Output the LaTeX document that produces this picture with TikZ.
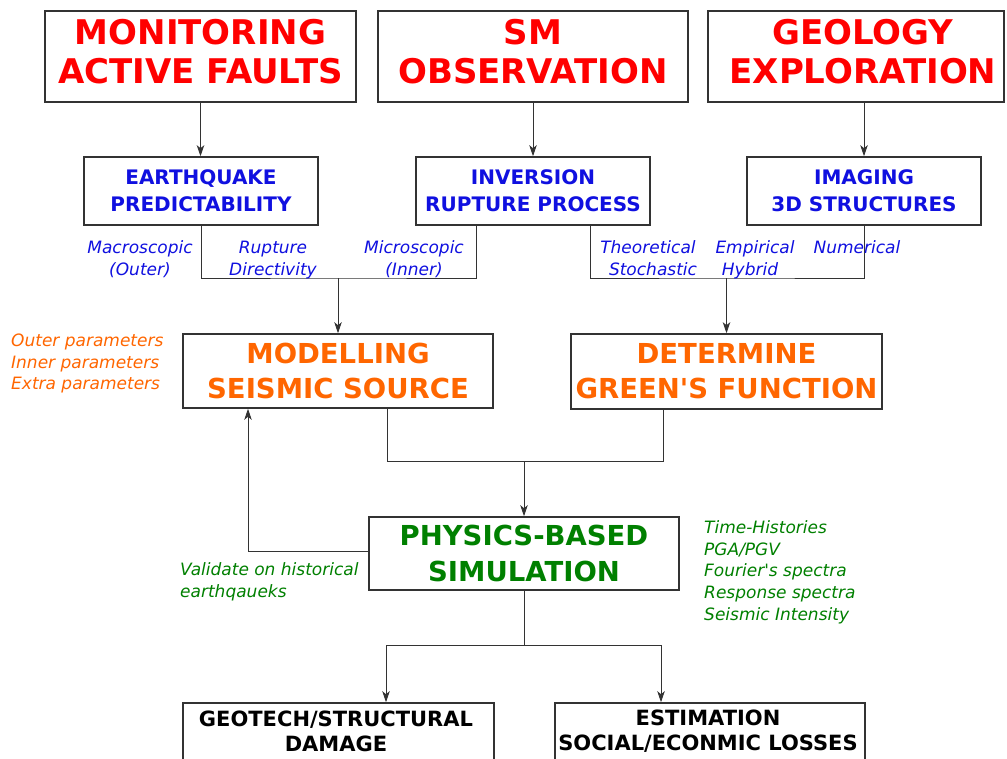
\documentclass[tikz,border=0pt]{standalone}
\usepackage{fontspec}
\setmainfont{DejaVu Sans}
\usetikzlibrary{arrows.meta}
\definecolor{cred}{RGB}{255,0,0}
\definecolor{cblue}{RGB}{16,16,224}
\definecolor{corange}{RGB}{255,102,0}
\definecolor{cgreen}{RGB}{0,128,0}
\definecolor{cline}{RGB}{51,51,51}
\begin{document}
\begin{tikzpicture}[x=1pt,y=-1pt,
  box/.style={draw=cline, line width=1.6pt, inner sep=0pt},
  conn/.style={draw=cline, line width=0.9pt},
  arr/.style={conn, -{Stealth[length=11pt,width=7.5pt,inset=3pt]}},
  redt/.style={text=cred, font=\bfseries\fontsize{34}{39}\selectfont, align=center, inner sep=0pt},
  bluet/.style={text=cblue, font=\bfseries\fontsize{20}{26.7}\selectfont, align=center},
  oranget/.style={text=corange, font=\bfseries\fontsize{27.5}{35}\selectfont, align=center},
  greent/.style={text=cgreen, font=\bfseries\fontsize{27.5}{36.5}\selectfont, align=center},
  blackt/.style={text=black, font=\bfseries\fontsize{21}{25}\selectfont, align=center, inner sep=0pt},
  lab/.style={font=\itshape\fontsize{17}{22}\selectfont, inner sep=0pt, anchor=base},
  bluel/.style={lab, text=cblue},
  orangel/.style={lab, text=corange, anchor=base west},
  greenl/.style={lab, text=cgreen, anchor=base west},
]
\clip (0,0) rectangle (1007,758);
\fill[white] (0,0) rectangle (1007,758);

% top row
\node[box, minimum width=311pt, minimum height=91pt] (t1) at (200.5,56.5) {};
\node[redt] (t1t) at (200.5,51.5) {MONITORING\\ACTIVE FAULTS};
\node[box, minimum width=310pt, minimum height=91pt] (t2) at (533,56.5) {};
\node[redt] (t2t) at (533,51.5) {SM\\OBSERVATION};
\node[box, minimum width=296pt, minimum height=91pt] (t3) at (856,56.5) {};
\node[redt] (t3t) at (863,51.5) {GEOLOGY\\EXPLORATION};

% second row
\node[box, bluet, minimum width=234pt, minimum height=68pt] (eq) at (201,191) {EARTHQUAKE\\PREDICTABILITY};
\node[box, bluet, minimum width=234pt, minimum height=68pt] (inv) at (533,191) {INVERSION\\RUPTURE PROCESS};
\node[box, bluet, minimum width=234pt, minimum height=68pt] (img) at (864,191) {IMAGING\\3D STRUCTURES};

% third row
\node[box, oranget, minimum width=310pt, minimum height=74pt] (ms) at (338,371) {MODELLING\\SEISMIC SOURCE};
\node[box, oranget, minimum width=311pt, minimum height=75pt] (gf) at (726.5,371.5) {DETERMINE\\GREEN\textquotesingle S FUNCTION};

% simulation
\node[box, greent, minimum width=310pt, minimum height=73pt] (sim) at (524,553.5) {PHYSICS-BASED\\SIMULATION};

% bottom row
\node[box, minimum width=311pt, minimum height=80pt] (geo) at (338.5,743) {};
\node[blackt] (geot) at (336,731.5) {GEOTECH/STRUCTURAL\\DAMAGE};
\node[box, minimum width=310pt, minimum height=80pt] (est) at (710,743) {};
\node[blackt] (estt) at (708,731.5) {ESTIMATION\\SOCIAL/ECONMIC LOSSES};

% junctions
\coordinate (j1) at (338,278);
\coordinate (j2) at (726.5,278);
\coordinate (j3) at (524,461.7);
\coordinate (j4) at (524,645);
\coordinate (fb) at (248,551);

% connectors
\draw[arr] (t1.south) -- (t1.south |- eq.north);
\draw[arr] (t2.south) -- (t2.south |- inv.north);
\draw[arr] (img.north |- t3.south) -- (img.north);
\draw[conn] (eq.south) |- (j1) -| ([xshift=-57pt]inv.south);
\draw[arr] (j1) -- (ms.north);
\draw[conn] ([xshift=57pt]inv.south) |- (j2) -| (img.south);
\draw[arr] (j2) -- (gf.north);
\draw[conn] ([xshift=49pt]ms.south) |- (j3) -| ([xshift=-63.5pt]gf.south);
\draw[arr] (j3) -- (sim.north);
\draw[arr] (sim.west |- fb) -- (fb) -- (fb |- ms.south);
\draw[conn] (sim.south) -- (j4);
\draw[arr] (j4) -| ([xshift=47.5pt]geo.north);
\draw[arr] (j4) -| ([xshift=-49pt]est.north);

% blue labels
\node[bluel] (lm1) at (140,253) {Macroscopic};
\node[bluel] (lm2) at (140,275) {(Outer)};
\node[bluel] (lr1) at (273,253) {Rupture};
\node[bluel] (lr2) at (273,275) {Directivity};
\node[bluel] (li1) at (414,253) {Microscopic};
\node[bluel] (li2) at (414,275) {(Inner)};
\node[bluel] (lt1) at (648,253) {Theoretical};
\node[bluel] (lt2) at (653,275) {Stochastic};
\node[bluel] (le1) at (755,253) {Empirical};
\node[bluel] (le2) at (750,275) {Hybrid};
\node[bluel] (ln1) at (857,253) {Numerical};

% orange labels
\node[orangel] (p1) at (11,346.7) {Outer parameters};
\node[orangel] (p2) at (11,368.3) {Inner parameters};
\node[orangel] (p3) at (11,389.3) {Extra parameters};

% green labels
\node[greenl] (v1) at (180,575) {Validate on historical};
\node[greenl] (v2) at (180,597) {earthqaueks};
\node[greenl] (g1) at (704,533.3) {Time-Histories};
\node[greenl] (g2) at (704,555) {PGA/PGV};
\node[greenl] (g3) at (704,576.7) {Fourier\textquotesingle s spectra};
\node[greenl] (g4) at (704,598.3) {Response spectra};
\node[greenl] (g5) at (704,620) {Seismic Intensity};
\end{tikzpicture}
\end{document}
